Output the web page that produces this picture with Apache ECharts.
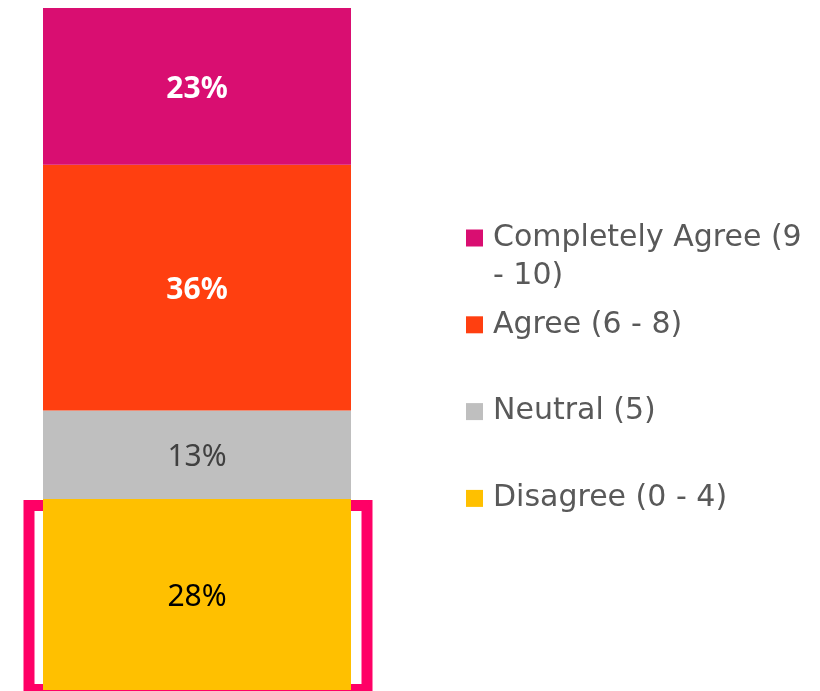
<!DOCTYPE html>
<html lang="en">
<head>
    <meta charset="UTF-8">
    <title>Agreement breakdown</title>
    <script src="https://cdn.jsdelivr.net/npm/echarts@6.0.0/dist/echarts.min.js"></script>
    <style>
        html, body { margin: 0; padding: 0; background: #fff; }
    </style>
</head>
<body>
    <div id="myChart" style="width: 820px; height: 691px;"></div>
    <script>
        // data, bottom of the stack first
        const categories = ['Total'];
        const seriesNames = ['Disagree (0 - 4)', 'Neutral (5)', 'Agree (6 - 8)', 'Completely Agree (9 - 10)'];
        const seriesValues = [28, 13, 36, 23];
        const seriesColors = ['#FFC000', '#BFBFBF', '#FF3F10', '#D90E71'];
        const labelColors = ['#000000', '#404040', '#FFFFFF', '#FFFFFF'];
        const labelBold = [false, false, true, true];
        const legendOrder = ['Completely Agree (9 - 10)', 'Agree (6 - 8)', 'Neutral (5)', 'Disagree (0 - 4)'];

        const LABEL_FONT = 'Noto Sans';
        const LEGEND_FONT = 'DejaVu Sans';
        const myChart = echarts.init(document.getElementById('myChart'));

        const series = seriesNames.map((name, i) => ({
            name: name,
            type: 'bar',
            stack: 'all',
            barWidth: 308,
            data: [seriesValues[i]],
            itemStyle: { color: seriesColors[i] },
            label: {
                show: true,
                position: 'inside',
                offset: [0, 3],
                formatter: '{c}%',
                color: labelColors[i],
                fontFamily: LABEL_FONT,
                fontSize: 30,
                fontWeight: labelBold[i] ? 'bold' : 'normal'
            }
        }));

        const option = {
            animation: false,
            grid: { left: 43, width: 308, top: 8, bottom: 1 },
            xAxis: {
                type: 'category',
                data: categories,
                show: false
            },
            yAxis: { type: 'value', min: 0, max: 100, show: false },
            legend: {
                orient: 'vertical',
                left: 466,
                top: 221,
                padding: 0,
                itemWidth: 17,
                itemHeight: 17,
                itemGap: 52.8,
                icon: 'rect',
                data: legendOrder,
                formatter: (name) => name === 'Completely Agree (9 - 10)' ? 'Completely Agree (9' : name,
                textStyle: { fontFamily: LEGEND_FONT, fontSize: 30, color: '#595959', lineHeight: 34, padding: [0, 0, 0, 5] }
            },
            series: series
        };
        myChart.setOption(option);

        // wrapped second line of the first legend entry + highlight frame around the bottom segment
        const left = myChart.convertToPixel({ xAxisIndex: 0 }, categories[0]) - 154;
        const yTop = myChart.convertToPixel({ yAxisIndex: 0 }, seriesValues[0]);
        const yBot = myChart.convertToPixel({ yAxisIndex: 0 }, 0);
        myChart.setOption({
            graphic: [
                {
                    type: 'text',
                    style: {
                        x: 493, y: 276, verticalAlign: 'middle',
                        text: '- 10)', font: '30px "' + LEGEND_FONT + '"', fill: '#595959'
                    }
                },
                {
                    type: 'rect',
                    shape: { x: left - 14, y: yTop + 6.5, width: 308 + 30, height: yBot - yTop - 7 },
                    style: { fill: 'none', stroke: '#FF0066', lineWidth: 11 }
                }
            ]
        });
    </script>
</body>
</html>
